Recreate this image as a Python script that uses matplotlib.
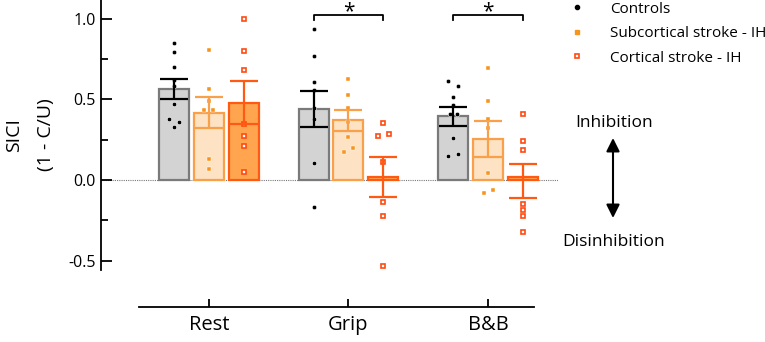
import numpy as np
import matplotlib.pyplot as plt

plt.rcParams['font.family'] = ['Open Sans', 'DejaVu Sans']

conditions = ['Rest', 'Grip', 'B&B']
groups = ['Controls', 'Subcortical stroke - IH', 'Cortical stroke - IH']

# bar heights (mean) and SEM per group, per condition
means = {
    'Controls': [0.563, 0.44, 0.394],
    'Subcortical stroke - IH': [0.417, 0.371, 0.252],
    'Cortical stroke - IH': [0.479, 0.018, -0.005],
}
sems = {
    'Controls': [0.064, 0.112, 0.058],
    'Subcortical stroke - IH': [0.095, 0.065, 0.112],
    'Cortical stroke - IH': [0.133, 0.125, 0.105],
}

# individual subjects
points = {
    'Controls': [
        [0.85, 0.79, 0.70, 0.62, 0.58, 0.469, 0.378, 0.357, 0.326],
        [0.935, 0.766, 0.605, 0.557, 0.448, 0.38, 0.103, -0.167],
        [0.611, 0.58, 0.514, 0.462, 0.407, 0.407, 0.26, 0.159, 0.15],
    ],
    'Subcortical stroke - IH': [
        [0.805, 0.565, 0.491, 0.433, 0.433, 0.132, 0.066],
        [0.625, 0.526, 0.448, 0.361, 0.268, 0.2, 0.173],
        [0.692, 0.487, 0.376, 0.322, 0.045, -0.062, -0.080],
    ],
    'Cortical stroke - IH': [
        [0.999, 0.80, 0.68, 0.347, 0.27, 0.21, 0.051],
        [0.351, 0.283, 0.27, 0.11, -0.138, -0.223, -0.531],
        [0.407, 0.24, 0.184, -0.147, -0.186, -0.223, -0.324],
    ],
}
# small horizontal jitter (bar units)
jitter = {
    'Controls': [
        [0, 0, 0, 0, 0, 0, -0.15, 0.15, 0],
        [0, 0, 0, 0, 0, 0, 0, 0],
        [-0.15, 0.15, 0, 0, -0.1, 0.1, 0, 0.15, -0.15],
    ],
    'Subcortical stroke - IH': [
        [0, 0, 0, -0.13, 0.13, 0, 0],
        [0, 0, 0, 0, 0, 0.13, -0.13],
        [0, 0, 0, 0, 0, 0.13, -0.13],
    ],
    'Cortical stroke - IH': [
        [0, 0, 0, 0, 0, 0, 0],
        [0, 0.15, -0.15, 0, 0, 0, 0],
        [0, 0, 0, 0, 0, 0, 0],
    ],
}

fill = {'Controls': '#d3d3d3', 'Subcortical stroke - IH': '#fde2c4', 'Cortical stroke - IH': '#ffa54f'}
edge = {'Controls': '#7a7a7a', 'Subcortical stroke - IH': '#f9a04a', 'Cortical stroke - IH': '#ff5a14'}
errc = {'Controls': 'black', 'Subcortical stroke - IH': '#f9a04a', 'Cortical stroke - IH': '#ff5a14'}

fig = plt.figure(figsize=(7.65, 3.42), dpi=100)
ax = fig.add_axes([101 / 765, 1 - 270 / 342, (558 - 101) / 765, 270 / 342])

# spines first: moving a spine resets the ticks
ax.spines['top'].set_visible(False)
ax.spines['right'].set_visible(False)
ax.spines['left'].set_linewidth(1.3)
ax.spines['bottom'].set_linewidth(1.3)
ax.spines['bottom'].set_position(('outward', 37 * 72 / 100))
ax.spines['bottom'].set_bounds(-2.0, 9.31)

width = 0.86
for k, g in enumerate(groups):
    xs = np.arange(len(conditions)) * 4 + (k - 1)
    m = np.array(means[g])
    heights = np.where(np.abs(m) < 0.03, 0.02, m)
    ax.bar(xs, heights, width=width, color=fill[g], edgecolor=edge[g], linewidth=1.6, zorder=2)
    for i, x in enumerate(xs):
        pts = np.array(points[g][i])
        px = x + np.array(jitter[g][i])
        if g == 'Controls':
            ax.plot(px, pts, 'o', ms=3.2, color='black', mec='white', mew=0.4, zorder=3)
        elif g == 'Subcortical stroke - IH':
            ax.plot(px, pts, 's', ms=3.2, color='#f7941d', mec='white', mew=0.3, zorder=3)
        else:
            ax.plot(px, pts, 's', ms=3.4, mfc='white', mec='#ff4a10', mew=1.2, zorder=3)
    ax.errorbar(xs, m, yerr=sems[g], fmt='none', ecolor=errc[g], elinewidth=1.6,
                capsize=10, capthick=1.6, zorder=4)

# legend entries
ax.plot([], [], 'o', ms=3, color='black', label=groups[0])
ax.plot([], [], 's', ms=3.2, color='#f7941d', label=groups[1])
ax.plot([], [], 's', ms=3.4, mfc='white', mec='#ff4a10', mew=1.2, label=groups[2])
ax.legend(loc='upper left', bbox_to_anchor=(0.987, 1.045), frameon=False, fontsize=11,
          handletextpad=1.4, labelspacing=0.62, handlelength=1.5)

ax.axhline(0, color='#777777', lw=0.8, ls=(0, (1, 1)), zorder=1)

# significance brackets
for i in [1, 2]:
    x1, x2 = i * 4 - 1, i * 4 + 1
    y = 1.02
    ax.plot([x1, x1, x2, x2], [y - 0.03, y, y, y - 0.03], color='black', lw=1.3, clip_on=False)
    ax.text((x1 + x2) / 2, 1.01, '*', ha='center', va='baseline', fontsize=15)

ax.set_xlim(-3.086, 10.0)
ax.set_ylim(-0.557, 1.115)
ax.set_xticks(np.arange(len(conditions)) * 4)
ax.set_xticklabels(conditions, fontsize=14.5)
ax.set_yticks([-0.5, 0.0, 0.5, 1.0])
ax.set_yticklabels(['-0.5', '0.0', '0.5', '1.0'], fontsize=11.5)
ax.set_yticks([-0.25, 0.25, 0.75], minor=True)
ax.tick_params(axis='y', which='major', direction='in', length=8, width=1.3, pad=4)
ax.tick_params(axis='y', which='minor', direction='in', length=5, width=1.3)
ax.tick_params(axis='x', direction='in', length=6, width=1.3, pad=6)
ax.set_ylabel('SICI\n(1 - C/U)', fontsize=14, linespacing=2.0, labelpad=9)

# inhibition arrow annotation
fig.text(614 / 765, 1 - 123 / 342, 'Inhibition', ha='center', va='center', fontsize=12.5)
fig.text(614 / 765, 1 - 242 / 342, 'Disinhibition', ha='center', va='center', fontsize=12.5)
ax.annotate('', xy=(613 / 765, 1 - 138 / 342), xytext=(613 / 765, 1 - 218 / 342),
            xycoords='figure fraction', textcoords='figure fraction',
            arrowprops=dict(arrowstyle='<|-|>', color='black', lw=1.5, mutation_scale=20,
                            shrinkA=0, shrinkB=0))

fig.savefig('out.png', dpi=100)
